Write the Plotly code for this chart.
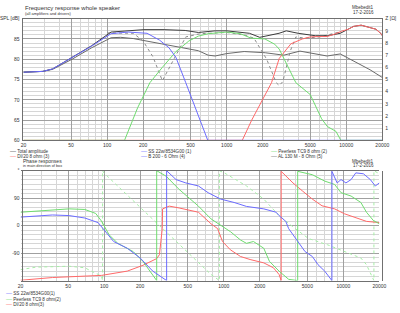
import numpy as np
import plotly.graph_objects as go

# ---------------- data: amplitude (Hz, dB) ----------------
f_total = [20, 29, 35, 51, 74, 108, 166, 203, 300, 450, 580, 800, 1000, 1550, 1890, 2740, 3150, 3960, 5500, 7000, 8900, 10400, 11500, 13300, 15000, 17700, 19700, 20000]
spl_total = [76.8, 77.0, 77.6, 80.4, 83.3, 86.7, 87.2, 87.3, 87.3, 87.1, 86.6, 87.0, 87.0, 86.4, 85.4, 86.4, 87.0, 86.4, 85.8, 85.8, 86.4, 87.4, 88.1, 88.4, 87.9, 87.4, 86.2, 85.8]

f_al130 = [20, 29, 35, 51, 74, 108, 130, 166, 285, 400, 580, 700, 800, 1000, 1400, 2100, 3000, 4100, 5000, 6900, 8900, 11500, 15800, 20000]
spl_al130 = [76.8, 77.0, 77.5, 80.0, 82.8, 85.3, 85.4, 85.1, 83.8, 83.0, 82.1, 81.0, 80.8, 81.4, 81.9, 81.6, 81.0, 82.0, 81.6, 80.8, 81.3, 79.6, 77.4, 75.5]

f_sum_dotted = [100, 166, 200, 242, 290, 348, 455, 600, 1000, 1400, 1690, 2160, 2600, 2750, 2950, 3400, 3790, 4500, 6000, 9000]
spl_sum_dotted = [86.5, 86.4, 84.5, 80.6, 74.7, 79.0, 85.5, 86.3, 86.6, 86.0, 85.2, 80.0, 74.2, 73.5, 74.5, 82.0, 85.5, 85.2, 85.5, 86.8]

f_ss22 = [20, 29, 35, 51, 74, 108, 150, 216, 275, 330, 377, 455, 580, 695, 1000, 20000]
spl_ss22 = [76.8, 77.0, 77.6, 80.4, 83.2, 86.3, 86.7, 86.4, 84.7, 82.8, 80.4, 74.2, 65.8, 60.0, 60.0, 60.0]

f_tc9 = [20, 140, 180, 228, 290, 377, 483, 580, 700, 1000, 1300, 1600, 2088, 2520, 2750, 3150, 3790, 4990, 6220, 6950, 8200, 9000, 20000]
spl_tc9 = [60.0, 60.0, 68.0, 74.2, 78.0, 81.9, 84.5, 85.7, 86.3, 86.7, 86.3, 85.2, 85.0, 83.7, 82.5, 78.9, 74.2, 71.3, 65.3, 63.4, 62.2, 60.0, 60.0]

f_di20 = [20, 1350, 1620, 1890, 2160, 2370, 2750, 3440, 4290, 5000, 5840, 6900, 8000, 9100, 10400, 11500, 13300, 15000, 17700, 19700, 20000]
spl_di20 = [60.0, 60.0, 65.0, 68.7, 71.8, 74.2, 80.2, 83.8, 85.0, 85.5, 85.6, 85.6, 86.2, 86.9, 87.4, 88.1, 88.4, 87.9, 87.4, 86.2, 85.8]

# ---------------- data: phase (Hz, degrees, wrapped) ----------------
f_ph_ss22 = [20, 37, 51, 69, 89, 95, 120, 156, 200, 255, 307, 333, 333, 399, 482, 614, 740, 942, 1220, 1550, 2160, 2740, 2900, 3300, 3490, 3970, 4780, 5500, 6140, 6980, 7940, 8020, 8020, 8870, 9560, 10500, 11600, 12700, 14700, 16800, 18500, 20000]
ph_ss22 = [28, 35, 33, 25, 10, -4, -52, -74, -106, -149, -170, -180, 180, 151, 140, 130, 108, 87, 76, 63, 55, 44, 33, 14, -10, -42, -85, -101, -128, -149, -176, -180, 178, 140, 151, 140, 151, 173, 170, 151, 130, 140]

f_ph_tc9 = [20, 37, 51, 69, 85, 95, 110, 130, 175, 211, 255, 275, 275, 330, 423, 614, 783, 976, 1140, 1380, 1550, 1770, 2160, 2410, 2900, 3490, 4150, 4150, 5500, 6980, 8450, 9560, 11600, 14000, 15600, 17800, 20000]
ph_tc9 = [44, 51, 55, 53, 40, 15, -30, -58, -85, -117, -160, -180, 180, 162, 119, 64, 22, -4, -20, -47, -58, -52, -74, -117, -149, -176, -180, 178, 167, 146, 135, 108, 97, 76, 44, 17, 6]

f_ph_di20 = [20, 37, 95, 156, 211, 275, 290, 300, 306, 308, 350, 423, 614, 783, 890, 976, 1135, 1380, 1660, 2160, 2600, 2900, 3020, 3020, 3790, 4570, 5500, 6630, 8450, 10200, 12300, 15600, 20000]
ph_di20 = [-179, -170, -163, -149, -130, -108, -95, -51, -10, 55, 64, 58, 44, 6, -10, -52, -79, -101, -111, -122, -138, -160, -180, 178, 140, 113, 87, 65, 55, 39, 28, 14, 10]

f_ph_dotted = [20, 27, 51, 69, 78, 95, 97, 97, 100, 166, 307, 614, 783, 920, 920, 1020, 1550, 2160, 2900, 3790, 3970, 5100, 7400, 10200, 14000, 15600, 18000, 18000, 18800, 20000]
ph_dotted = [-144, -136, -133, -138, -149, -165, -180, 180, 172, 90, -10, -120, -160, -180, 180, 172, 130, 87, 33, -4, -10, -42, -63, -85, -106, -128, -180, 180, 176, 170]

# ---------------- ticks ----------------
x_major = [20, 50, 100, 200, 500, 1000, 2000, 5000, 10000, 20000]
x_major_text = ["20", "50", "100", "200", "500", "1000", "2000", "5000", "10000", "20000"]
x_minor = [30, 40, 60, 70, 80, 90, 300, 400, 600, 700, 800, 900, 3000, 4000, 6000, 7000, 8000, 9000]
spl_ticks = [60, 65, 70, 75, 80, 85, 90]
spl_text = ["60", "65", "70", "75", "80", "85", "SPL [dB]"]
z_ticks = [1, 2, 3, 4, 5, 6, 7, 8, 9, 10]
z_text = ["1", "2", "3", "4", "5", "6", "7", "8", "9", "Z [Ω]"]
ph_ticks = [-180, -90, 0, 90, 180]
ph_text = ["", "-90", "0", "90", "°"]

W, H = 400, 313
def px(x):
    return x / W
def py(y):
    return 1 - y / H

C_TOTAL = "#3c3c3c"
C_GRAY = "#6a6a6a"
C_DOT = "#8c8c8c"
C_BLUE = "#6b6bff"
C_GREEN = "#6fdc6f"
C_RED = "#ff6868"
C_LGREEN = "#a6eea6"

fig = go.Figure()
lw = 1
# top panel
fig.add_trace(go.Scatter(x=f_al130, y=spl_al130, mode="lines", line=dict(color=C_GRAY, width=lw), xaxis="x", yaxis="y"))
fig.add_trace(go.Scatter(x=f_sum_dotted, y=spl_sum_dotted, mode="lines", line=dict(color=C_DOT, width=1, dash="dot"), xaxis="x", yaxis="y"))
fig.add_trace(go.Scatter(x=f_total, y=spl_total, mode="lines", line=dict(color=C_TOTAL, width=lw), xaxis="x", yaxis="y"))
fig.add_trace(go.Scatter(x=f_di20, y=spl_di20, mode="lines", line=dict(color=C_RED, width=lw), xaxis="x", yaxis="y"))
fig.add_trace(go.Scatter(x=f_tc9, y=spl_tc9, mode="lines", line=dict(color=C_GREEN, width=lw), xaxis="x", yaxis="y"))
fig.add_trace(go.Scatter(x=f_ss22, y=spl_ss22, mode="lines", line=dict(color=C_BLUE, width=lw), xaxis="x", yaxis="y"))
fig.add_trace(go.Scatter(x=[None], y=[None], mode="lines", xaxis="x", yaxis="y2"))
# bottom panel
fig.add_trace(go.Scatter(x=f_ph_dotted, y=ph_dotted, mode="lines", line=dict(color=C_LGREEN, width=1, dash="dot"), xaxis="x2", yaxis="y3"))
fig.add_trace(go.Scatter(x=f_ph_di20, y=ph_di20, mode="lines", line=dict(color=C_RED, width=lw), xaxis="x2", yaxis="y3"))
fig.add_trace(go.Scatter(x=f_ph_tc9, y=ph_tc9, mode="lines", line=dict(color=C_GREEN, width=lw), xaxis="x2", yaxis="y3"))
fig.add_trace(go.Scatter(x=f_ph_ss22, y=ph_ss22, mode="lines", line=dict(color=C_BLUE, width=lw), xaxis="x2", yaxis="y3"))

FONT = "Liberation Sans, Arial, sans-serif"
tickfont = dict(family=FONT, size=5, color="#333333")
GRID_MAJ = "#a0a0a0"
GRID_MIN = "#d6d6d6"
LINE = "#707070"

xcommon = dict(type="log", range=[np.log10(20), np.log10(20000)], tickmode="array",
               tickvals=x_major, ticktext=x_major_text, showgrid=True, gridcolor=GRID_MAJ, gridwidth=1,
               minor=dict(tickmode="array", tickvals=x_minor, showgrid=True, gridcolor=GRID_MIN, gridwidth=1, ticklen=0),
               showline=True, mirror=True, linecolor=LINE, linewidth=1, ticks="", tickfont=tickfont,
               zeroline=False, fixedrange=True, ticklabelstandoff=0)

fig.update_layout(
    width=W, height=H, margin=dict(l=0, r=0, t=0, b=0),
    paper_bgcolor="white", plot_bgcolor="white", showlegend=False,
    font=dict(family=FONT, size=5, color="#333333"),
    xaxis=dict(domain=[px(20), px(389)], anchor="y", **xcommon),
    yaxis=dict(domain=[py(140), py(16)], range=[60, 90], tickmode="array", tickvals=spl_ticks, ticktext=spl_text,
               showgrid=True, gridcolor=GRID_MAJ, minor=dict(dtick=1, showgrid=True, gridcolor=GRID_MIN, ticklen=0),
               showline=True, mirror=True, linecolor=LINE, ticks="", tickfont=tickfont, zeroline=False, ticklabelstandoff=2),
    yaxis2=dict(overlaying="y", side="right", anchor="x", range=[0, 10], tickmode="array", tickvals=z_ticks,
                ticktext=z_text, showgrid=False, ticks="", tickfont=tickfont, zeroline=False, ticklabelstandoff=2),
    xaxis2=dict(domain=[px(17), px(386)], anchor="y3", **xcommon),
    yaxis3=dict(domain=[py(283), py(171)], range=[-180, 180], tickmode="array", tickvals=ph_ticks, ticktext=ph_text,
                showgrid=True, gridcolor=GRID_MAJ, minor=dict(dtick=15, showgrid=True, gridcolor=GRID_MIN, ticklen=0),
                showline=True, mirror=True, linecolor=LINE, ticks="", tickfont=tickfont, zeroline=False, ticklabelstandoff=2),
)

def ann(x, y, text, size=5, xanchor="left"):
    fig.add_annotation(x=px(x), y=py(y), xref="paper", yref="paper", text=text, showarrow=False,
                       xanchor=xanchor, yanchor="middle", font=dict(family=FONT, size=size, color="#333333"))

def leg(x, y, color, label):
    ann(x, y, f'<span style="color:{color};font-size:6px">—</span> {label}', size=4.6)

ann(20, 5.5, "Frequency response whole speaker", size=6)
ann(20, 10.5, "(all amplifiers and drivers)", size=4)
ann(383, 5, "Mbebedit1", size=4.5, xanchor="right")
ann(383, 9.5, "17-2-2016", size=4.5, xanchor="right")

leg(4, 150.5, C_TOTAL, "Total amplitude")
leg(4, 155.5, C_RED, "DI/20 8 ohm (3)")
leg(139, 150.5, C_BLUE, "SS 22w/8534G00 (1)")
leg(139, 155.5, C_BLUE, "B 200 - 6 Ohm (4)")
leg(273, 150.5, C_GREEN, "Peerless TC9 8 ohm (2)")
leg(273, 155.5, C_GRAY, "AL 130 M - 8 Ohm (5)")

ann(17, 161.5, "Phase responses", size=5)
ann(17, 166.5, "in main direction of box", size=3.8)
ann(383, 161.5, "Mbebedit1", size=4.5, xanchor="right")
ann(383, 165.5, "17-2-2016", size=4.5, xanchor="right")

leg(0, 296, C_BLUE, "SS 22w/8534G00(1)")
leg(0, 301.3, C_GREEN, "Peerless TC9 8 ohm(2)")
leg(0, 306.6, C_RED, "DI/20 8 ohm(3)")

fig.write_html("out.html")
